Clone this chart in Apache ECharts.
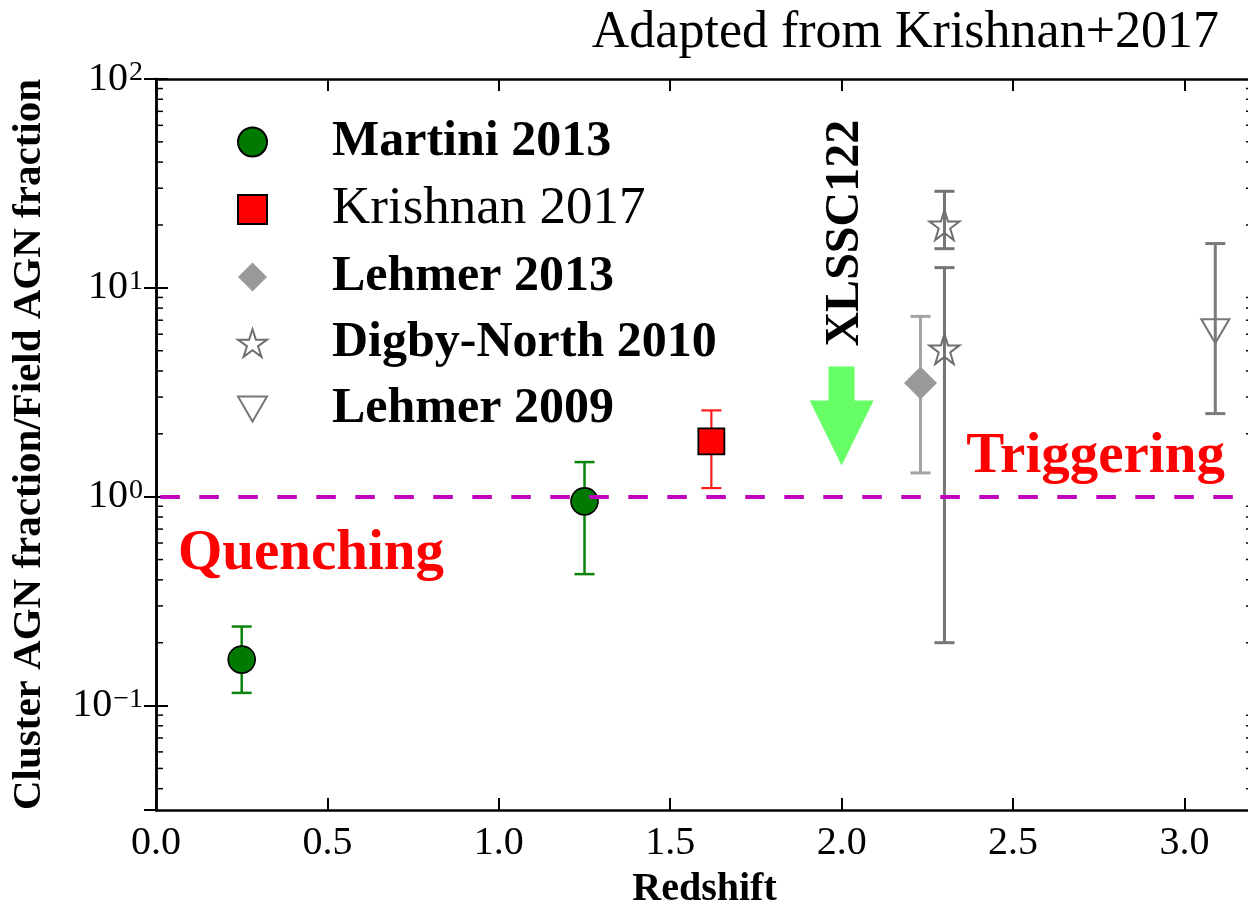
<!DOCTYPE html>
<html>
<head>
<meta charset="utf-8">
<title>Cluster AGN fraction vs redshift</title>
<script src="https://cdn.jsdelivr.net/npm/echarts@6/dist/echarts.min.js"></script>
<style>
  html, body { margin: 0; padding: 0; background: #fff; }
  #chart { width: 1248px; height: 910px; }
</style>
</head>
<body>
<div id="chart"></div>
<script>
// ---- measurements: redshift, AGN fraction ratio, lower / upper error bound ----
const martiniZ     = [0.25, 1.25];
const martiniRatio = [0.166, 0.95];
const martiniLow   = [0.115, 0.426];
const martiniHigh  = [0.239, 1.465];

const krishnanZ     = [1.62];
const krishnanRatio = [1.84];
const krishnanLow   = [1.10];
const krishnanHigh  = [2.59];

const lehmer13Z     = [2.23];
const lehmer13Ratio = [3.5];
const lehmer13Low   = [1.30];
const lehmer13High  = [7.3];

const digbyZ     = [2.30, 2.30];
const digbyRatio = [20.0, 5.1];
const digbyLow   = [15.4, 0.20];
const digbyHigh  = [29.0, 12.5];

const lehmer09Z     = [3.09];
const lehmer09Ratio = [6.2];
const lehmer09Low   = [2.5];
const lehmer09High  = [16.3];

// XLSSC122 marker: redshift, arrow top, head base, tip (in ratio units)
const xlsscZ = 2.0;
const xlsscArrow = [4.2, 2.89, 1.41];

// axis ticks
const xTickLabels = ['0.0', '0.5', '1.0', '1.5', '2.0', '2.5', '3.0'];
const yDecades = [-1, 0, 1, 2];

const FONT = 'Liberation Serif';
const X_MIN = 0, X_MAX = 3.2;
const Y_MIN = Math.pow(10, -1.5), Y_MAX = 100;

function zip(xs, ys) { return xs.map((x, i) => [x, ys[i]]); }
function zipErr(xs, lo, hi) { return xs.map((x, i) => [x, lo[i], hi[i]]); }

// vertical error bar with caps
function errorBarRender(color, width, capHalf) {
  return function (params, api) {
    const x = api.value(0);
    const pLo = api.coord([x, api.value(1)]);
    const pHi = api.coord([x, api.value(2)]);
    const style = { stroke: color, lineWidth: width, fill: null };
    return {
      type: 'group',
      children: [
        { type: 'line', shape: { x1: pLo[0], y1: pLo[1], x2: pHi[0], y2: pHi[1] }, style },
        { type: 'line', shape: { x1: pLo[0] - capHalf, y1: pLo[1], x2: pLo[0] + capHalf, y2: pLo[1] }, style },
        { type: 'line', shape: { x1: pHi[0] - capHalf, y1: pHi[1], x2: pHi[0] + capHalf, y2: pHi[1] }, style }
      ]
    };
  };
}
function errorSeries(data, color, width) {
  return {
    type: 'custom', silent: true, z: 2,
    encode: { x: 0, y: [1, 2] },
    data: data,
    renderItem: errorBarRender(color, width, 10)
  };
}

// minor ticks of the log axis (2..9 x 10^k), drawn inward on both sides
const minorTickValues = [];
for (let k = -2; k <= 1; k++) {
  for (let m = 2; m <= 9; m++) {
    const v = m * Math.pow(10, k);
    if (v > Y_MIN && v < Y_MAX) minorTickValues.push([X_MIN, v]);
  }
}

const STAR = 'path://M50,0L61.23,34.55L97.55,34.55L68.17,55.9L79.39,90.45L50,69.1L20.61,90.45L31.83,55.9L2.45,34.55L38.77,34.55Z';
const TRI_DOWN = 'path://M0,0L28,0L14,24Z';

const legendNames = ['Martini 2013', 'Krishnan 2017', 'Lehmer 2013', 'Digby-North 2010', 'Lehmer 2009'];

const chart = echarts.init(document.getElementById('chart'), null, { renderer: 'canvas' });

const option = {
  animation: false,
  backgroundColor: '#ffffff',
  title: {
    text: 'Adapted from Krishnan+2017',
    right: 24, top: 2,
    textStyle: { fontFamily: FONT, fontSize: 52, fontWeight: 'normal', color: '#000' }
  },
  grid: { left: 156, top: 79, right: -5, bottom: 100, containLabel: false, outerBoundsMode: 'none' },
  legend: {
    orient: 'vertical',
    left: 232, top: 112,
    itemWidth: 29, itemHeight: 29, itemGap: 16,
    selectedMode: false,
    data: legendNames,
    formatter: function (name) {
      return '{g| }' + (name === 'Krishnan 2017' ? '{n|' + name + '}' : '{b|' + name + '}');
    },
    textStyle: {
      fontFamily: FONT, color: '#000',
      rich: {
        g: { width: 60, fontSize: 20, lineHeight: 40 },
        b: { fontFamily: FONT, fontSize: 50, fontWeight: 'bold', color: '#000', lineHeight: 40 },
        n: { fontFamily: FONT, fontSize: 53, fontWeight: 'normal', color: '#000', lineHeight: 40 }
      }
    }
  },
  xAxis: [
    {
      type: 'value', min: X_MIN, max: X_MAX, interval: 0.5,
      position: 'bottom',
      name: 'Redshift', nameLocation: 'middle', nameGap: 60,
      nameTextStyle: { fontFamily: FONT, fontSize: 40, fontWeight: 'bold', color: '#000' },
      axisLine: { show: true, lineStyle: { color: '#000', width: 2.5 } },
      axisTick: { show: true, inside: true, length: 12, lineStyle: { color: '#000', width: 2 } },
      axisLabel: {
        fontFamily: FONT, fontSize: 40, color: '#000', margin: 13,
        showMaxLabel: false,
        formatter: function (v) {
          const i = Math.round(v / 0.5);
          return Math.abs(v - i * 0.5) < 1e-9 && i < xTickLabels.length ? xTickLabels[i] : '';
        }
      },
      splitLine: { show: false }
    },
    {
      type: 'value', min: X_MIN, max: X_MAX, interval: 0.5,
      position: 'top',
      axisLine: { show: true, lineStyle: { color: '#000', width: 2.5 } },
      axisTick: { show: true, inside: true, length: 12, lineStyle: { color: '#000', width: 2 } },
      axisLabel: { show: false },
      splitLine: { show: false }
    }
  ],
  yAxis: [
    {
      type: 'log', logBase: 10, min: Y_MIN, max: Y_MAX,
      position: 'left',
      name: 'Cluster AGN fraction/Field AGN fraction',
      nameLocation: 'middle', nameGap: 106, nameRotate: 90,
      nameTextStyle: { fontFamily: FONT, fontSize: 41, fontWeight: 'bold', color: '#000' },
      axisLine: { show: true, lineStyle: { color: '#000', width: 2.5 } },
      axisTick: { show: true, inside: true, length: 12, lineStyle: { color: '#000', width: 2 } },
      axisLabel: {
        fontFamily: FONT, fontSize: 40, color: '#000', margin: 13,
        showMinLabel: false,
        formatter: function (v) {
          const e = Math.log10(v);
          const r = Math.round(e);
          if (Math.abs(e - r) > 1e-6 || yDecades.indexOf(r) < 0) return '';
          return '10{s|' + (r < 0 ? '\u2212' + (-r) : r) + '}';
        },
        rich: {
          s: { fontFamily: FONT, fontSize: 28, color: '#000', verticalAlign: 'top', padding: [0, 0, 0, 1] }
        }
      },
      splitLine: { show: false }
    },
    {
      type: 'log', logBase: 10, min: Y_MIN, max: Y_MAX,
      position: 'right',
      axisLine: { show: true, lineStyle: { color: '#000', width: 2.5 } },
      axisTick: { show: true, inside: true, length: 12, lineStyle: { color: '#000', width: 2 } },
      axisLabel: { show: false },
      splitLine: { show: false }
    }
  ],
  series: [
    // error bars
    errorSeries(zipErr(martiniZ, martiniLow, martiniHigh), '#0a840a', 2.5),
    errorSeries(zipErr(krishnanZ, krishnanLow, krishnanHigh), '#ff1a1a', 2.2),
    errorSeries(zipErr(lehmer13Z, lehmer13Low, lehmer13High), '#a3a3a3', 3),
    errorSeries(zipErr(digbyZ, digbyLow, digbyHigh), '#757575', 3),
    errorSeries(zipErr(lehmer09Z, lehmer09Low, lehmer09High), '#7a7a7a', 3),

    // points
    {
      name: 'Martini 2013', type: 'scatter', z: 3,
      symbol: 'circle', symbolSize: 27,
      itemStyle: { color: '#007a00', borderColor: '#000', borderWidth: 1.6, opacity: 1 },
      data: zip(martiniZ, martiniRatio),
      markLine: {
        silent: true, symbol: 'none', z: 10,
        label: { show: false },
        lineStyle: { color: '#bf00bf', width: 4, type: [19.5, 19.5], dashOffset: 34.7 },
        data: [{ yAxis: 1 }]
      }
    },
    {
      name: 'Krishnan 2017', type: 'scatter', z: 3,
      symbol: 'rect', symbolSize: 26,
      itemStyle: { color: '#ff0000', borderColor: '#000', borderWidth: 1.8, opacity: 1 },
      data: zip(krishnanZ, krishnanRatio)
    },
    {
      name: 'Lehmer 2013', type: 'scatter', z: 3,
      symbol: 'diamond', symbolSize: 33,
      itemStyle: { color: '#999999', borderWidth: 0, opacity: 1 },
      data: zip(lehmer13Z, lehmer13Ratio)
    },
    {
      name: 'Digby-North 2010', type: 'scatter', z: 3,
      symbol: STAR, symbolSize: 30,
      itemStyle: { color: 'rgba(255,255,255,0)', borderColor: '#6e6e6e', borderWidth: 2, opacity: 1 },
      data: zip(digbyZ, digbyRatio)
    },
    {
      name: 'Lehmer 2009', type: 'scatter', z: 3,
      symbol: TRI_DOWN, symbolSize: [28, 24],
      itemStyle: { color: 'rgba(255,255,255,0)', borderColor: '#777777', borderWidth: 2, opacity: 1 },
      data: zip(lehmer09Z, lehmer09Ratio)
    },

    // minor ticks on left and right spines
    {
      type: 'custom', silent: true, z: 4,
      encode: { x: 0, y: 1 },
      data: minorTickValues,
      renderItem: function (params, api) {
        const v = api.value(1);
        const pl = api.coord([X_MIN, v]);
        const pr = api.coord([X_MAX, v]);
        const style = { stroke: '#000', lineWidth: 1.5 };
        return {
          type: 'group',
          children: [
            { type: 'line', shape: { x1: pl[0], y1: pl[1], x2: pl[0] + 7, y2: pl[1] }, style },
            { type: 'line', shape: { x1: pr[0] - 7, y1: pr[1], x2: pr[0], y2: pr[1] }, style }
          ]
        };
      }
    },

    // XLSSC122 arrow and label
    {
      type: 'custom', silent: true, z: 4,
      encode: { x: 0, y: 1 },
      data: [[xlsscZ, xlsscArrow[0], xlsscArrow[1], xlsscArrow[2]]],
      renderItem: function (params, api) {
        const z = api.value(0);
        const top = api.coord([z, api.value(1)]);
        const base = api.coord([z, api.value(2)]);
        const tip = api.coord([z, api.value(3)]);
        const cx = top[0], sw = 13, hw = 32;
        return {
          type: 'group',
          children: [
            {
              type: 'polygon',
              shape: { points: [
                [cx - sw, top[1]], [cx + sw, top[1]], [cx + sw, base[1]], [cx + hw, base[1]],
                [cx, tip[1]], [cx - hw, base[1]], [cx - sw, base[1]]
              ] },
              style: { fill: '#66ff66' }
            },
            {
              type: 'text',
              x: cx + 4, y: top[1] - 20,
              rotation: Math.PI / 2,
              style: {
                text: 'XLSSC122', fill: '#000',
                font: 'bold 48px "' + FONT + '"',
                align: 'left', verticalAlign: 'middle'
              }
            }
          ]
        };
      }
    },

    // regime labels
    {
      type: 'custom', silent: true, z: 4,
      encode: { x: 0, y: 1 },
      data: [[0.064, 0.387, 0], [3.118, 1.13, 1]],
      renderItem: function (params, api) {
        const p = api.coord([api.value(0), api.value(1)]);
        const right = api.value(2) === 1;
        return {
          type: 'text', x: p[0], y: p[1],
          style: {
            text: right ? 'Triggering' : 'Quenching',
            fill: '#ff0000',
            font: 'bold 57px "' + FONT + '"',
            align: right ? 'right' : 'left',
            verticalAlign: 'bottom'
          }
        };
      }
    }
  ]
};

chart.setOption(option);
</script>
</body>
</html>
